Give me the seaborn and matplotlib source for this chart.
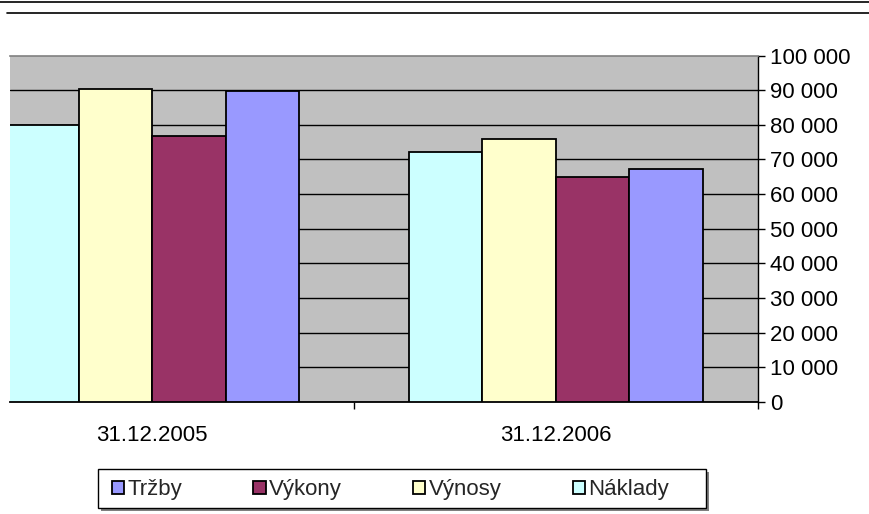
import numpy as np
import pandas as pd
import seaborn as sns
import matplotlib.pyplot as plt
from matplotlib.patches import Patch, Rectangle
from matplotlib.lines import Line2D
from matplotlib.ticker import FixedLocator, FuncFormatter

# ---- data ----
dates = ['31.12.2005', '31.12.2006']
series = ['Náklady', 'Výnosy', 'Výkony', 'Tržby']
naklady = [79800, 72200]
vynosy = [90400, 75900]
vykony = [76800, 64900]
trzby = [89800, 67300]
legend_order = ['Tržby', 'Výkony', 'Výnosy', 'Náklady']
y_ticks = [0, 10000, 20000, 30000, 40000, 50000, 60000, 70000, 80000, 90000, 100000]

colors = {'Náklady': '#CCFFFF', 'Výnosy': '#FFFFCC', 'Výkony': '#993366', 'Tržby': '#9999FF'}

values = {'Náklady': naklady, 'Výnosy': vynosy, 'Výkony': vykony, 'Tržby': trzby}
df = pd.DataFrame([
    {'Datum': d, 'Ukazatel': s, 'Hodnota': values[s][i]}
    for s in series for i, d in enumerate(dates)
])

sns.set_theme(style='white')
plt.rcParams['font.family'] = ['Liberation Sans', 'DejaVu Sans']
FS = 16

W, H = 869, 514
fig = plt.figure(figsize=(W / 100, H / 100), dpi=100)
fig.patch.set_facecolor('white')

x0, x1, y0, y1 = 10, 757.5, 55.5, 402
ax = fig.add_axes([x0 / W, 1 - y1 / H, (x1 - x0) / W, (y1 - y0) / H])
ax.set_facecolor('#C0C0C0')

sns.barplot(data=df, x='Datum', y='Hodnota', hue='Ukazatel', order=dates,
            hue_order=series, palette=colors, width=0.728, edgecolor='black',
            linewidth=1.3, saturation=1, ax=ax, legend=False, zorder=3)

ax.set_xlabel('')
ax.set_ylabel('')

# y axis on the right
ax.yaxis.tick_right()
ax.yaxis.set_major_locator(FixedLocator(y_ticks))
ax.yaxis.set_major_formatter(FuncFormatter(lambda v, p: f"{v:,.0f}".replace(',', ' ')))
ax.tick_params(axis='y', which='major', right=True, left=False, length=5, width=1,
               color='black', pad=4, labelsize=FS, labelcolor='black')

# x axis: labels at category centres, tick marks at boundaries
ax.set_xticks([0, 1])
ax.set_xticklabels(dates)
ax.set_xticks([-0.5, 0.5, 1.5], minor=True)
ax.tick_params(axis='x', which='major', length=0, pad=16.5, labelsize=FS, labelcolor='black')
ax.tick_params(axis='x', which='minor', bottom=True, length=5, width=1, color='black')

ax.set_xlim(0.5 - (354 - x0) / 403.5, 1.5)
ax.set_ylim(0, 100000)

ax.set_axisbelow(True)
ax.yaxis.grid(True, color='black', linewidth=1.0)
ax.xaxis.grid(False)
ax.yaxis.get_gridlines()[-1].set_visible(False)

ax.spines['left'].set_visible(False)
ax.spines['top'].set_color('#808080')
ax.spines['top'].set_linewidth(1.2)
ax.spines['right'].set_color('black')
ax.spines['right'].set_linewidth(1.0)
ax.spines['bottom'].set_color('black')
ax.spines['bottom'].set_linewidth(1.3)

# legend frame (Excel style box with shadow)
bx0, bx1, by0, by1 = 98, 706, 469, 508
fig.add_artist(Rectangle(((bx0 + 3) / W, 1 - (by1 + 3) / H), (bx1 - bx0) / W, (by1 - by0) / H,
                         transform=fig.transFigure, facecolor='#7f7f7f', edgecolor='none',
                         zorder=1))
fig.add_artist(Rectangle((bx0 / W, 1 - by1 / H), (bx1 - bx0) / W, (by1 - by0) / H,
                         transform=fig.transFigure, facecolor='white', edgecolor='black',
                         linewidth=1.0, zorder=2))

handles = [Patch(facecolor=colors[s], edgecolor='black', linewidth=1.3) for s in legend_order]
leg = fig.legend(handles, legend_order, ncol=4, loc='center left',
                 bbox_to_anchor=(112 / W, 1 - 490 / H),
                 fontsize=FS, frameon=False,
                 handlelength=0.55, handleheight=0.55, handletextpad=0.15,
                 columnspacing=3.2, borderpad=0, borderaxespad=0)
leg.set_zorder(5)

# header lines
fig.add_artist(Line2D([0, 1], [1 - 2 / H, 1 - 2 / H], transform=fig.transFigure,
                      color='black', linewidth=1.2))
fig.add_artist(Line2D([7 / W, 1], [1 - 13 / H, 1 - 13 / H], transform=fig.transFigure,
                      color='black', linewidth=1.2))

fig.savefig('out.png', dpi=100)
